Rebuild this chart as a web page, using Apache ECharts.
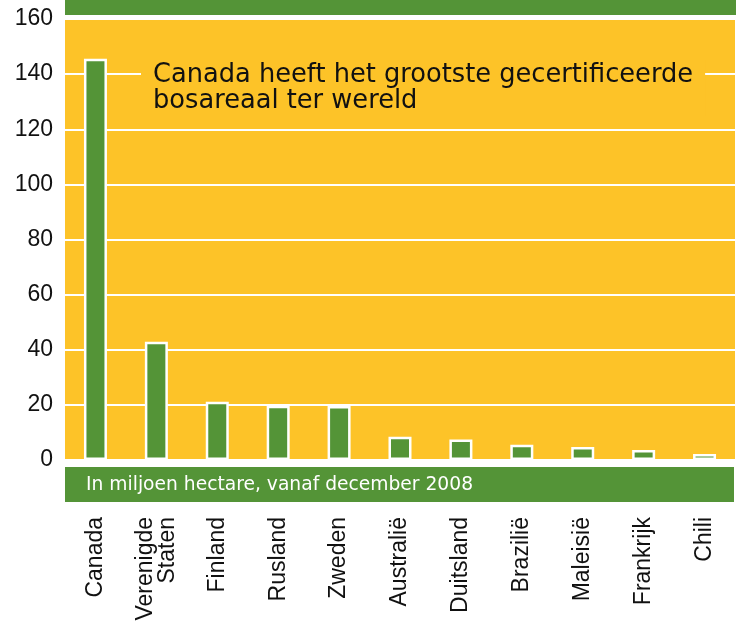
<!DOCTYPE html>
<html>
<head>
<meta charset="utf-8">
<script src="https://cdn.jsdelivr.net/npm/echarts@6/dist/echarts.min.js"></script>
<style>
html,body{margin:0;padding:0;background:#fff;}
#chart{width:736px;height:625px;}
</style>
</head>
<body>
<div id="chart"></div>
<script>
var categories = ['Canada', 'Verenigde\nStaten', 'Finland', 'Rusland', 'Zweden', 'Australië', 'Duitsland', 'Brazilië', 'Maleisië', 'Frankrijk', 'Chili'];
var values = [145.6, 42.9, 21.1, 19.7, 19.6, 8.4, 7.4, 5.5, 4.7, 3.6, 2.2];
var yTicks = [0, 20, 40, 60, 80, 100, 120, 140, 160];
var annotation = 'Canada heeft het grootste gecertificeerde\nbosareaal ter wereld';
var unitNote = 'In miljoen hectare, vanaf december 2008';

var YELLOW = '#FDC328';
var GREEN = '#549437';
var FONT = '"Liberation Sans", Arial, sans-serif';
var FONT2 = '"DejaVu Sans", sans-serif';

var chart = echarts.init(document.getElementById('chart'), null, {renderer: 'canvas'});
chart.setOption({
  animation: false,
  backgroundColor: '#ffffff',
  grid: {left: 65, right: 1, top: 19, height: 441, show: true, backgroundColor: YELLOW, borderWidth: 0},
  xAxis: {
    type: 'category',
    data: categories,
    axisLine: {show: false},
    axisTick: {show: false},
    axisLabel: {rotate: 90, margin: 57, fontSize: 23, color: '#111', fontFamily: FONT, lineHeight: 22, interval: 0}
  },
  yAxis: {
    type: 'value',
    min: yTicks[0],
    max: yTicks[yTicks.length - 1],
    interval: 20,
    axisLine: {show: false},
    axisTick: {show: false},
    axisLabel: {fontSize: 23, color: '#111', fontFamily: FONT, margin: 12},
    splitLine: {show: true, lineStyle: {color: '#ffffff', width: 2}}
  },
  series: [{
    type: 'bar',
    data: values,
    barWidth: 23,
    itemStyle: {color: GREEN, borderColor: '#ffffff', borderWidth: 2.5},
    z: 3
  }],
  graphic: [
    {type: 'rect', left: 65, top: 0, shape: {width: 671, height: 15}, style: {fill: GREEN}, z: 10},
    {type: 'rect', left: 65, top: 467, shape: {width: 669, height: 35}, style: {fill: GREEN}, z: 10},
    {type: 'text', left: 86, top: 476, style: {text: unitNote, fill: '#ffffff', font: '18.7px ' + FONT2}, z: 11},
    {type: 'text', left: 141, top: 60, style: {
      text: annotation, fill: '#111', font: '25.7px ' + FONT2, lineHeight: 26,
      backgroundColor: YELLOW, padding: [2, 12, 2, 12]
    }, z: 11}
  ]
});
</script>
</body>
</html>
